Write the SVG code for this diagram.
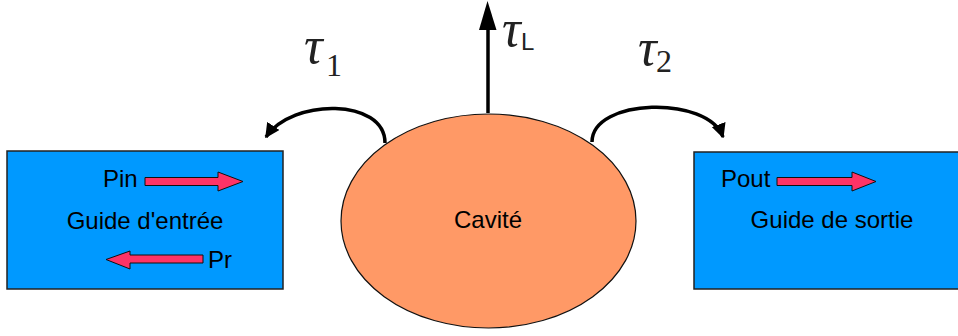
<svg xmlns="http://www.w3.org/2000/svg" width="958" height="336" viewBox="0 0 958 336">
<defs>
<style>
.box{fill:#0099ff;stroke:#222;stroke-width:1.5}
.cav{fill:#ff9966;stroke:#111;stroke-width:1.2}
.lbl{font-family:"Liberation Sans",Arial,sans-serif;font-size:24px;fill:#000}
.arr{fill:#ff3366;stroke:#111;stroke-width:1}
.conn{fill:none;stroke:#000;stroke-width:3.5}
.tau{font-family:"Liberation Serif","Times New Roman",serif;font-style:italic;font-size:52px;fill:#222}
.sub{font-family:"Liberation Serif","Times New Roman",serif;font-size:32px;fill:#222}
.subL{font-family:"Liberation Sans",Arial,sans-serif;font-size:24px;fill:#222}
</style>
<marker id="ah" viewBox="0 0 10 10" refX="9" refY="5" markerWidth="4.2" markerHeight="4.2" orient="auto" markerUnits="strokeWidth">
<path d="M0,0 L10,5 L0,10 Z" fill="#000"/>
</marker>
</defs>
<g id="guide-entree">
<rect class="box" x="7" y="151" width="276" height="138"/>
<text class="lbl" x="145" y="229" text-anchor="middle">Guide d'entrée</text>
<text class="lbl" x="103" y="187">Pin</text>
<path class="arr" d="M145,177.5 H218 V172 L243,181.5 L218,191 V185.5 H145 Z"/>
<path class="arr" d="M203,255 H130 V251 L106,259.5 L130,269 V263 H203 Z"/>
<text class="lbl" x="208" y="268">Pr</text>
</g>
<g id="guide-sortie">
<rect class="box" x="694" y="152" width="270" height="137"/>
<text class="lbl" x="832" y="228" text-anchor="middle">Guide de sortie</text>
<text class="lbl" x="721" y="187">Pout</text>
<path class="arr" d="M777,177.5 H852 V172 L876,181.5 L852,191 V185.5 H777 Z"/>
</g>
<g id="cavite">
<ellipse class="cav" cx="488.5" cy="221" rx="147.5" ry="107"/>
<text class="lbl" x="488" y="228" text-anchor="middle">Cavité</text>
</g>
<g id="connectors">
<path class="conn" d="M488,113 V28" stroke-width="4"/>
<path d="M479,30 L487.5,1 L496.5,30 Z" fill="#000"/>
<path class="conn" d="M385,143 C385,98 292,98 266,137" marker-end="url(#ah)"/>
<path class="conn" d="M592,142 C592,98 708,95 723,137" marker-end="url(#ah)"/>
</g>
<g id="labels">
<text class="tau" x="304" y="63">τ</text><text class="sub" x="326" y="76">1</text>
<text class="tau" x="502" y="46">τ</text><text class="subL" x="521" y="50">L</text>
<text class="tau" x="638" y="65">τ</text><text class="sub" x="656" y="72">2</text>
</g>
</svg>
